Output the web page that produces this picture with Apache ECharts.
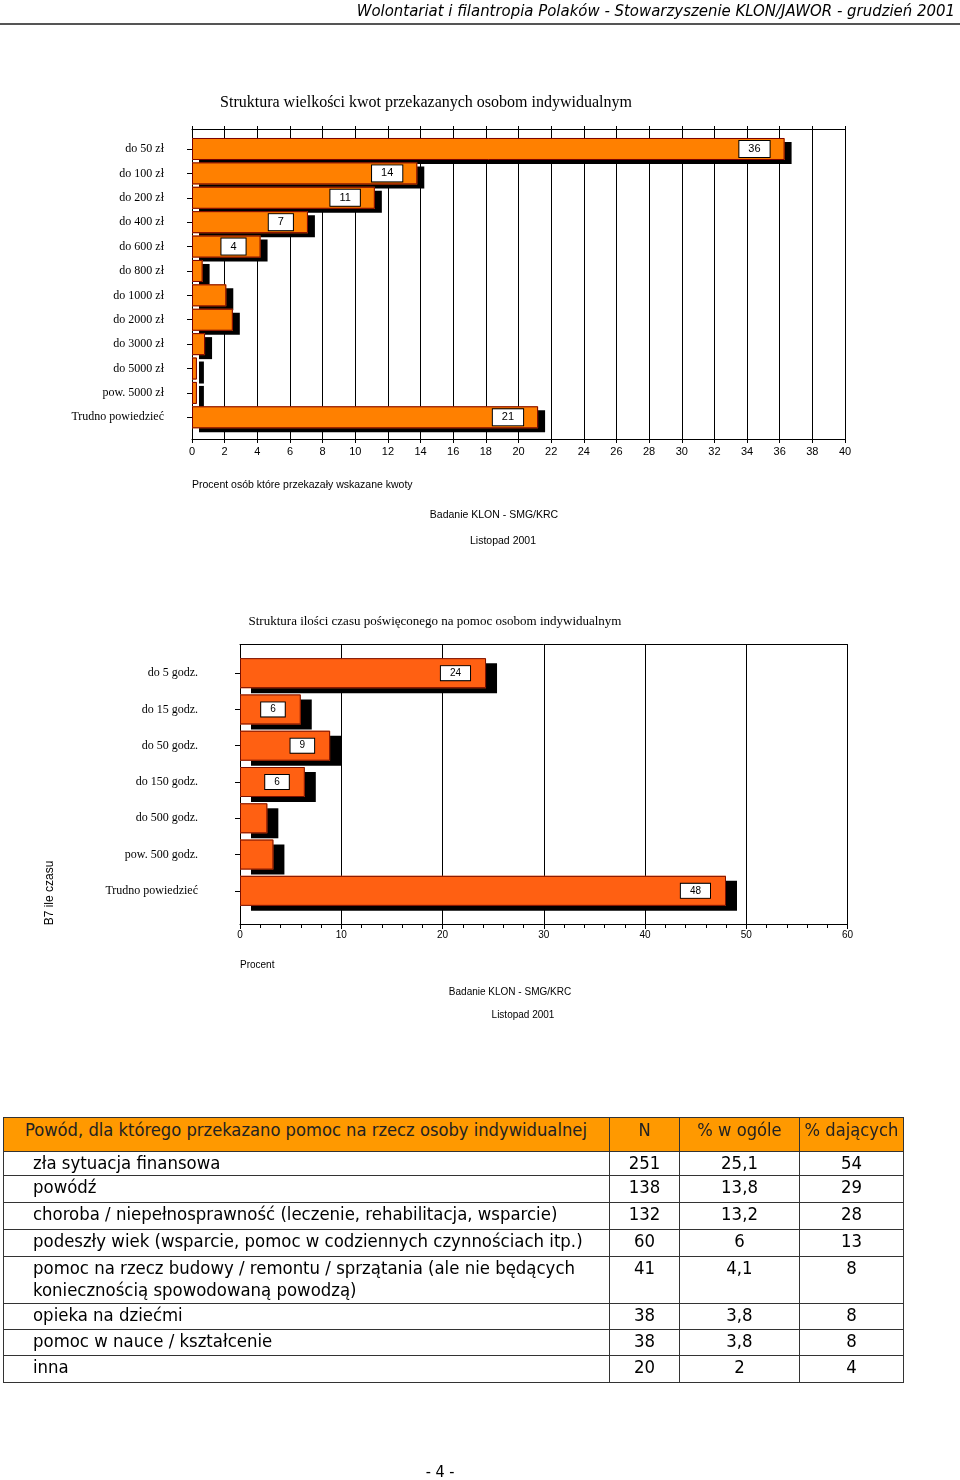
<!DOCTYPE html>
<html><head><meta charset="utf-8">
<script src="https://cdn.jsdelivr.net/npm/echarts@6/dist/echarts.min.js"></script>
<style>
html,body{margin:0;padding:0;background:#fff;}
#wrap{position:relative;width:960px;height:1480px;overflow:hidden;background:#fff;}
#chart{position:absolute;left:0;top:0;width:960px;height:1480px;}
#hdr{position:absolute;right:5px;top:1px;font-family:'DejaVu Sans Condensed','DejaVu Sans',sans-serif;font-style:italic;font-size:16.6px;color:#000;white-space:nowrap;}
#hline{position:absolute;left:0;top:23px;width:960px;height:2px;background:#555;}
#tbl{position:absolute;left:3px;top:1117px;border-collapse:collapse;table-layout:fixed;font-family:'DejaVu Sans Condensed','DejaVu Sans',sans-serif;font-size:18.4px;color:#000;}
#tbl td{border:1px solid #333;padding:0;vertical-align:top;line-height:22px;overflow:hidden;white-space:normal;}
#tbl tr.h td{background:#FF9900;color:#222;padding-top:1px;font-size:18.2px;}
#tbl td.c{text-align:center;}
#tbl td.l{padding-left:29px;}
#tbl tr.h td.l{padding-left:21px;}
#foot{position:absolute;left:0;width:880px;top:1462px;text-align:center;font-family:'DejaVu Sans Condensed','DejaVu Sans',sans-serif;font-size:16px;}
</style>
</head><body>
<div id="wrap">
<div id="chart"></div>
<div id="hdr">Wolontariat i filantropia Polaków - Stowarzyszenie KLON/JAWOR - grudzień 2001</div>
<div id="hline"></div>
<table id="tbl"></table>
<div id="foot">- 4 -</div>
</div>
<script>
// ---- Data ----
const amountCategories = ['do 50 zł','do 100 zł','do 200 zł','do 400 zł','do 600 zł','do 800 zł','do 1000 zł','do 2000 zł','do 3000 zł','do 5000 zł','pow. 5000 zł','Trudno powiedzieć'];
const amountValues = [36.3, 13.8, 11.2, 7.1, 4.2, 0.65, 2.1, 2.5, 0.8, 0.3, 0.3, 21.2];
const timeCategories = ['do 5 godz.','do 15 godz.','do 50 godz.','do 150 godz.','do 500 godz.','pow. 500 godz.','Trudno powiedzieć'];
const timeValues = [24.3, 6.0, 8.9, 6.4, 2.7, 3.3, 48.0];

const tableHeader = ['Powód, dla którego przekazano pomoc na rzecz osoby indywidualnej','N','% w ogóle','% dających'];
const reasons = ['zła sytuacja finansowa','powódź','choroba / niepełnosprawność (leczenie, rehabilitacja, wsparcie)','podeszły wiek (wsparcie, pomoc w codziennych czynnościach itp.)','pomoc na rzecz budowy / remontu / sprzątania (ale nie będących koniecznością spowodowaną powodzą)','opieka na dziećmi','pomoc w nauce / kształcenie','inna'];
const countN = ['251','138','132','60','41','38','38','20'];
const pctTotal = ['25,1','13,8','13,2','6','4,1','3,8','3,8','2'];
const pctGiving = ['54','29','28','13','8','8','8','4'];

// ---- Table ----
const colW = [606, 70, 120, 104];
const rowH = [24, 27, 27, 27, 47, 26, 26, 27];
(function(){
  const t = document.getElementById('tbl');
  let html = '<colgroup>' + colW.map(w => '<col style="width:' + w + 'px">').join('') + '</colgroup>';
  html += '<tr class="h" style="height:34px"><td class="l">' + tableHeader[0] + '</td>' +
    tableHeader.slice(1).map(h => '<td class="c">' + h + '</td>').join('') + '</tr>';
  reasons.forEach((r, i) => {
    html += '<tr style="height:' + rowH[i] + 'px"><td class="l">' + r + '</td><td class="c">' + countN[i] +
      '</td><td class="c">' + pctTotal[i] + '</td><td class="c">' + pctGiving[i] + '</td></tr>';
  });
  t.innerHTML = html;
})();

// ---- Chart ----
const SANS = 'Liberation Sans, Arial, sans-serif';
const SERIF = 'Liberation Serif, Times New Roman, serif';
const chart = echarts.init(document.getElementById('chart'), null, {renderer: 'canvas'});

function barData(vals, minLabel) {
  return vals.map(v => ({value: v, label: {show: v >= minLabel}}));
}
const black = {color: '#000', width: 1};

function barPair(xIdx, yIdx, vals, width, fill, edge, sx, sy, dist, fs, pad) {
  return [
    {type: 'bar', xAxisIndex: xIdx, yAxisIndex: yIdx, barWidth: width, barGap: '-100%', z: 2,
     data: barData(vals, 4),
     itemStyle: {color: fill, borderWidth: 0,
                 shadowColor: '#000', shadowBlur: 0, shadowOffsetX: sx, shadowOffsetY: sy},
     label: {position: 'insideRight', distance: dist, formatter: p => String(Math.round(p.value)),
             backgroundColor: '#fff', borderColor: '#000', borderWidth: 1, padding: pad,
             color: '#000', fontSize: fs, fontFamily: SANS}},
    {type: 'bar', xAxisIndex: xIdx, yAxisIndex: yIdx, barWidth: width, barGap: '-100%', z: 3, silent: true,
     data: vals,
     itemStyle: {color: 'rgba(0,0,0,0)', borderColor: edge, borderWidth: 1},
     label: {show: false}}
  ];
}

const option = {
  animation: false,
  backgroundColor: '#fff',
  grid: [
    {left: 192, top: 129, width: 653, height: 310, outerBoundsMode: 'none', containLabel: false},
    {left: 192, top: 136.8, width: 653, height: 292.7, outerBoundsMode: 'none', containLabel: false},
    {left: 240, top: 644.5, width: 607.5, height: 279.5, outerBoundsMode: 'none', containLabel: false},
    {left: 240, top: 655, width: 607.5, height: 254, outerBoundsMode: 'none', containLabel: false}
  ],
  xAxis: [
    {gridIndex: 0, type: 'value', min: 0, max: 40, interval: 2, position: 'bottom',
     axisLine: {show: true, lineStyle: black}, axisTick: {show: true, length: 4, lineStyle: black},
     axisLabel: {show: true, margin: 7, color: '#000', fontSize: 11, fontFamily: SANS},
     splitLine: {show: true, lineStyle: black}},
    {gridIndex: 0, type: 'value', min: 0, max: 40, interval: 2, position: 'top',
     axisLine: {show: true, lineStyle: black}, axisTick: {show: true, length: 3, lineStyle: black},
     axisLabel: {show: false}, splitLine: {show: false}},
    {gridIndex: 1, type: 'value', min: 0, max: 40, show: false},
    {gridIndex: 2, type: 'value', min: 0, max: 60, interval: 10, position: 'bottom',
     axisLine: {show: true, lineStyle: black}, axisTick: {show: true, length: 5, lineStyle: black},
     minorTick: {show: true, splitNumber: 5, length: 4, lineStyle: black},
     axisLabel: {show: true, margin: 6, color: '#000', fontSize: 10, fontFamily: SANS},
     splitLine: {show: true, lineStyle: black}},
    {gridIndex: 2, type: 'value', min: 0, max: 60, position: 'top',
     axisLine: {show: true, lineStyle: black}, axisTick: {show: false},
     axisLabel: {show: false}, splitLine: {show: false}},
    {gridIndex: 3, type: 'value', min: 0, max: 60, show: false}
  ],
  yAxis: [
    {gridIndex: 0, type: 'value', min: 0, max: 1, axisLine: {show: true, lineStyle: black},
     axisTick: {show: false}, axisLabel: {show: false}, splitLine: {show: false}},
    {gridIndex: 1, type: 'category', inverse: true, data: amountCategories,
     axisLine: {show: true, lineStyle: black},
     axisTick: {show: true, alignWithLabel: true, length: 5, lineStyle: black},
     axisLabel: {margin: 28, color: '#000', fontSize: 12, fontFamily: SERIF},
     splitLine: {show: false}},
    {gridIndex: 2, type: 'value', min: 0, max: 1, axisLine: {show: true, lineStyle: black},
     axisTick: {show: false}, axisLabel: {show: false}, splitLine: {show: false}},
    {gridIndex: 3, type: 'category', inverse: true, data: timeCategories,
     axisLine: {show: true, lineStyle: black},
     axisTick: {show: true, alignWithLabel: true, length: 5, lineStyle: black},
     axisLabel: {margin: 42, color: '#000', fontSize: 12, fontFamily: SERIF},
     splitLine: {show: false}}
  ],
  series: [].concat(
    barPair(2, 1, amountValues, 22, '#FF8000', '#7a0000', 7, 4, 15, 11, [3, 9, 2, 9]),
    barPair(5, 3, timeValues, 30, '#FF6012', '#7a1000', 11, 5, 16, 10, [2, 9, 2, 9])
  ),
  graphic: [
    {type: 'text', x: 426, y: 103, style: {text: 'Struktura wielkości kwot przekazanych osobom indywidualnym', font: '16px ' + SERIF, fill: '#000', align: 'center', verticalAlign: 'middle'}},
    {type: 'text', x: 192, y: 485, style: {text: 'Procent osób które przekazały wskazane kwoty', font: '10.5px ' + SANS, fill: '#000', align: 'left', verticalAlign: 'middle'}},
    {type: 'text', x: 494, y: 515, style: {text: 'Badanie KLON - SMG/KRC', font: '10.5px ' + SANS, fill: '#000', align: 'center', verticalAlign: 'middle'}},
    {type: 'text', x: 503, y: 541, style: {text: 'Listopad 2001', font: '10.5px ' + SANS, fill: '#000', align: 'center', verticalAlign: 'middle'}},
    {type: 'text', x: 435, y: 622, style: {text: 'Struktura ilości czasu poświęconego na pomoc osobom indywidualnym', font: '13px ' + SERIF, fill: '#000', align: 'center', verticalAlign: 'middle'}},
    {type: 'text', x: 50, y: 893, rotation: Math.PI / 2, style: {text: 'B7 ile czasu', font: '12px ' + SANS, fill: '#000', align: 'center', verticalAlign: 'middle'}},
    {type: 'text', x: 240, y: 965, style: {text: 'Procent', font: '10px ' + SANS, fill: '#000', align: 'left', verticalAlign: 'middle'}},
    {type: 'text', x: 510, y: 992, style: {text: 'Badanie KLON - SMG/KRC', font: '10px ' + SANS, fill: '#000', align: 'center', verticalAlign: 'middle'}},
    {type: 'text', x: 523, y: 1015, style: {text: 'Listopad 2001', font: '10px ' + SANS, fill: '#000', align: 'center', verticalAlign: 'middle'}}
  ]
};
chart.setOption(option);
</script>
</body></html>
